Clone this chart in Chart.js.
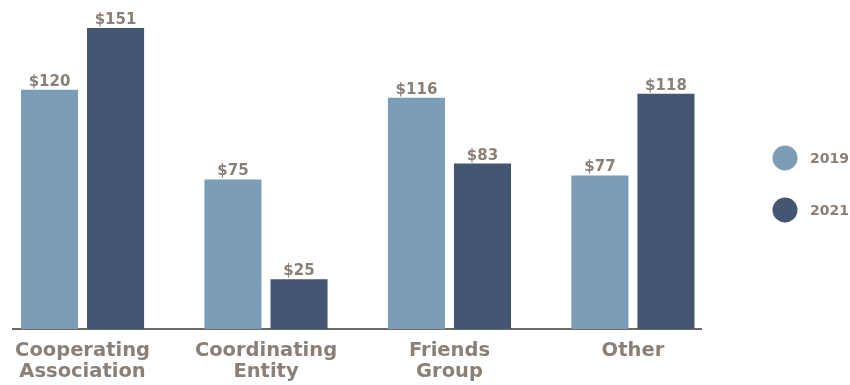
<!DOCTYPE html>
<html lang="en">
<head>
  <meta charset="UTF-8">
  <title>Revenue by Partner Type</title>
  <script src="https://cdn.jsdelivr.net/npm/chart.js"></script>
  <style>
    html, body {
      margin: 0;
      padding: 0;
      background: #ffffff;
    }
    .wrap {
      position: relative;
      width: 850px;
      height: 385px;
    }
  </style>
</head>
<body>
  <div class="wrap">
    <canvas id="chart"></canvas>
  </div>

  <script>
    const categories = [
      ['Cooperating', 'Association'],
      ['Coordinating', 'Entity'],
      ['Friends', 'Group'],
      ['Other']
    ];
    const seriesNames = ['2019', '2021'];
    const values2019 = [120, 75, 116, 77];
    const values2021 = [151, 25, 83, 118];

    const LIGHT = '#7c9db8';
    const DARK = '#435672';
    const TEXT = '#8b8078';
    const FONT = "'DejaVu Sans', sans-serif";

    // dollar amount above every bar
    const valueLabels = {
      id: 'valueLabels',
      afterDatasetsDraw(chart) {
        const ctx = chart.ctx;
        ctx.save();
        ctx.font = 'bold 15px ' + FONT;
        ctx.fillStyle = TEXT;
        ctx.textAlign = 'center';
        ctx.textBaseline = 'alphabetic';
        chart.data.datasets.forEach((ds, i) => {
          chart.getDatasetMeta(i).data.forEach((bar, j) => {
            ctx.fillText('$' + ds.data[j], bar.x, bar.y - 4);
          });
        });
        ctx.restore();
      }
    };

    // round swatches stacked on the right side
    const sideLegend = {
      id: 'sideLegend',
      afterDraw(chart) {
        const ctx = chart.ctx;
        const x = chart.chartArea.right + 84;
        ctx.save();
        ctx.font = 'bold 14px ' + FONT;
        ctx.textAlign = 'left';
        ctx.textBaseline = 'middle';
        chart.data.datasets.forEach((ds, i) => {
          const y = 158 + i * 52;
          ctx.fillStyle = ds.backgroundColor;
          ctx.beginPath();
          ctx.arc(x, y, 12.5, 0, Math.PI * 2);
          ctx.fill();
          ctx.fillStyle = TEXT;
          ctx.fillText(ds.label, x + 25, y + 1);
        });
        ctx.restore();
      }
    };

    new Chart(document.getElementById('chart'), {
      type: 'bar',
      data: {
        labels: categories,
        datasets: [
          { label: seriesNames[0], data: values2019, backgroundColor: LIGHT },
          { label: seriesNames[1], data: values2021, backgroundColor: DARK }
        ]
      },
      options: {
        responsive: true,
        maintainAspectRatio: false,
        animation: false,
        layout: { padding: { left: 13, right: 149, top: 10, bottom: -8 } },
        categoryPercentage: 0.72,
        barPercentage: 0.864,
        plugins: {
          legend: { display: false },
          tooltip: { enabled: false }
        },
        scales: {
          x: {
            grid: { display: false, drawTicks: false },
            border: { display: true, color: '#6e6a67', width: 2 },
            ticks: {
              color: TEXT,
              padding: 11,
              maxRotation: 0,
              autoSkip: false,
              font: { family: FONT, size: 19.5, weight: 'bold', lineHeight: '21px' }
            },
            // groups sit slightly wider than the baseline's even split
            afterBuildTicks(scale) {
              scale._startValue = -0.379;
              scale._valueRange = 3.75;
            }
          },
          y: {
            display: false,
            min: 0,
            max: 160
          }
        }
      },
      plugins: [valueLabels, sideLegend]
    });
  </script>
</body>
</html>
